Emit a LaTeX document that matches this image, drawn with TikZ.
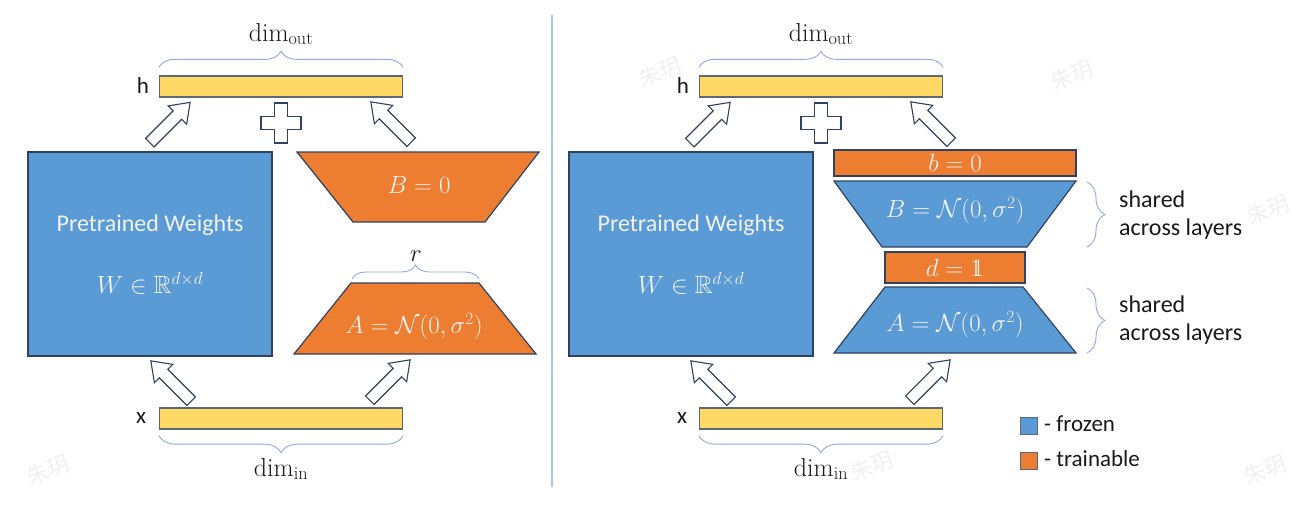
\documentclass[tikz,border=0pt]{standalone}
\usepackage{fontspec}
\usepackage{amsmath,amssymb}
\usetikzlibrary{decorations.pathreplacing}
\newfontfamily\calibri{Carlito}
\newfontfamily\cjk{Noto Sans CJK SC}
\definecolor{frozen}{HTML}{5B9BD5}
\definecolor{train}{HTML}{ED7D31}
\definecolor{barfill}{HTML}{FFD966}
\definecolor{edge}{HTML}{2F4260}
\definecolor{baredge}{HTML}{5F6775}
\definecolor{bracec}{HTML}{8FAADC}
\definecolor{divc}{HTML}{A9C4E6}
\definecolor{txt}{HTML}{1A1A1A}
\newcommand\dsone{\mathrm{1}\mkern-6.5mu\mathrm{1}}
\tikzset{
  bar/.style={draw=baredge, line width=1.3pt, fill=barfill, minimum width=243pt, minimum height=21pt, inner sep=0pt},
  frozenbox/.style={draw=edge, line width=1.2pt, fill=frozen, inner sep=0pt},
  trainbox/.style={draw=edge, line width=1.2pt, fill=train, inner sep=0pt},
  trapF/.style={draw=edge, line width=1.2pt, fill=frozen, line join=miter},
  trapT/.style={draw=edge, line width=1.2pt, fill=train, line join=miter},
  boxtxt/.style={text=white!95!black, font=\calibri\fontsize{24}{28}\selectfont, inner sep=0pt},
  mathtxt/.style={text=white!95!black, font=\fontsize{25}{29}\selectfont, inner sep=0pt},
  lbl/.style={text=txt, font=\calibri\fontsize{23}{27}\selectfont, inner sep=0pt},
  dimlbl/.style={text=txt, font=\fontsize{26}{30}\selectfont, inner sep=0pt},
  sidetxt/.style={text=txt, font=\calibri\fontsize{24}{28}\selectfont, align=left, inner sep=0pt, anchor=west},
  bracestyle/.style={draw=bracec, line width=0.9pt, decorate},
  harrowstyle/.style={draw=edge, line width=1.1pt, fill=white, line join=miter},
  plusstyle/.style={draw=edge, line width=1.1pt, fill=white, line join=miter},
  wm/.style={text=black, opacity=0.06, font=\cjk\fontsize{22}{24}\selectfont, rotate=20, inner sep=0pt},
  legsq/.style={draw=edge!80, line width=1pt, minimum width=17pt, minimum height=17pt, inner sep=0pt}
}
\newcommand\hollowarrow[2]{%
  \draw[harrowstyle, shift={(#1)}, rotate=#2]
    (-28.5,-6) -- (10.5,-6) -- (10.5,-13) -- (28.5,0) -- (10.5,13) -- (10.5,6) -- (-28.5,6) -- cycle;}
\newcommand\plussign[1]{%
  \draw[plusstyle, shift={(#1)}]
    (-6.5,-20) -- (6.5,-20) -- (6.5,-6.5) -- (20,-6.5) -- (20,6.5) -- (6.5,6.5) -- (6.5,20)
    -- (-6.5,20) -- (-6.5,6.5) -- (-20,6.5) -- (-20,-6.5) -- (-6.5,-6.5) -- cycle;}
\begin{document}
\begin{tikzpicture}[x=1pt,y=-1pt]
\useasboundingbox[fill=white] (0,0) rectangle (1292,522);

% watermarks (faint)
\foreach \p in {(660,72),(1072,75),(1268,210),(48,470),(872,466),(1265,470)}
  \node[wm] at \p {朱玥};

% divider
\draw[divc, line width=1.6pt] (552,15) -- (552,487);

%%%%%%%%%%%% LEFT PANEL
\node[bar] (hL) at (281,86.5) {};
\node[lbl] (hlabL) at (143,86) {h};
\draw[bracestyle, decoration={brace, amplitude=16pt}] ([yshift=8pt]hL.north west) -- ([yshift=8pt]hL.north east);
\node[dimlbl] (doutL) at (281,34) {$\mathrm{dim}_{\mathrm{out}}$};
\plussign{281,123}
\hollowarrow{170,122.5}{45}
\hollowarrow{391,122}{135}

\node[frozenbox, minimum width=244pt, minimum height=204pt] (WL) at (150,254) {};
\node[boxtxt] (ptL) at (150,225) {Pretrained Weights};
\node[mathtxt] (wL) at (150,283) {$W \in \mathbb{R}^{d\times d}$};

\path[trapT] (297,152) -- (539,152) -- (485,222) -- (353,222) -- cycle;
\node[mathtxt] (BL) at (419,185) {$B = 0$};
\path[trapT] (351,283) -- (479,283) -- (536,354) -- (294,354) -- cycle;
\node[mathtxt] (AL) at (414,327) {$A = \mathcal{N}(0,\sigma^2)$};
\coordinate (rL1) at (352,279);
\coordinate (rL2) at (479,279);
\draw[bracestyle, decoration={brace, amplitude=14pt}] (rL1) -- (rL2);
\node[dimlbl] (rL) at (416,256) {$r$};

\hollowarrow{171,381}{135}
\hollowarrow{390,380}{45}
\node[bar] (xL) at (281,418.5) {};
\node[lbl] (xlabL) at (141,418) {x};
\draw[bracestyle, decoration={brace, amplitude=17pt}] ([yshift=-6pt]xL.south east) -- ([yshift=-6pt]xL.south west);
\node[dimlbl] (dinL) at (281,469) {$\mathrm{dim}_{\mathrm{in}}$};

%%%%%%%%%%%% RIGHT PANEL
\node[bar] (hR) at (821,86.5) {};
\node[lbl] (hlabR) at (683,86) {h};
\draw[bracestyle, decoration={brace, amplitude=16pt}] ([yshift=8pt]hR.north west) -- ([yshift=8pt]hR.north east);
\node[dimlbl] (doutR) at (821,34) {$\mathrm{dim}_{\mathrm{out}}$};
\plussign{821,123}
\hollowarrow{710,122.5}{45}
\hollowarrow{931,122}{135}

\node[frozenbox, minimum width=244pt, minimum height=204pt] (WR) at (691,254) {};
\node[boxtxt] (ptR) at (691,225) {Pretrained Weights};
\node[mathtxt] (wR) at (691,283) {$W \in \mathbb{R}^{d\times d}$};

\node[trainbox, minimum width=242pt, minimum height=26pt] (bR) at (955,163) {};
\node[mathtxt] at (bR) {$b = 0$};
\path[trapF] (834,181) -- (1076,181) -- (1027,247) -- (882,247) -- cycle;
\node[mathtxt] (BR) at (955,211) {$B = \mathcal{N}(0,\sigma^2)$};
\node[trainbox, minimum width=140pt, minimum height=31pt] (dR) at (955,267.5) {};
\node[mathtxt] at (dR) {$d = \dsone$};
\path[trapF] (885,287) -- (1023,287) -- (1076,353) -- (834,353) -- cycle;
\node[mathtxt] (AR) at (955,325) {$A = \mathcal{N}(0,\sigma^2)$};

\coordinate (br1a) at (1087,182);
\coordinate (br1b) at (1087,247);
\coordinate (br2a) at (1087,288);
\coordinate (br2b) at (1087,353);
\draw[bracestyle, decoration={brace, amplitude=18pt}] (br1a) -- (br1b);
\draw[bracestyle, decoration={brace, amplitude=18pt}] (br2a) -- (br2b);
\node[sidetxt] (sh1) at (1119,215) {shared\\across layers};
\node[sidetxt] (sh2) at (1119,320) {shared\\across layers};

\hollowarrow{711,381}{135}
\hollowarrow{930,380}{45}
\node[bar] (xR) at (821,418.5) {};
\node[lbl] (xlabR) at (682,418) {x};
\draw[bracestyle, decoration={brace, amplitude=17pt}] ([yshift=-6pt]xR.south east) -- ([yshift=-6pt]xR.south west);
\node[dimlbl] (dinR) at (821,469) {$\mathrm{dim}_{\mathrm{in}}$};

% legend
\node[legsq, fill=frozen] (lgF) at (1029,425.5) {};
\node[lbl, anchor=west] (lgFt) at (1044,424) {- frozen};
\node[legsq, fill=train] (lgT) at (1029,461) {};
\node[lbl, anchor=west] (lgTt) at (1044,459) {- trainable};
\end{tikzpicture}
\end{document}
